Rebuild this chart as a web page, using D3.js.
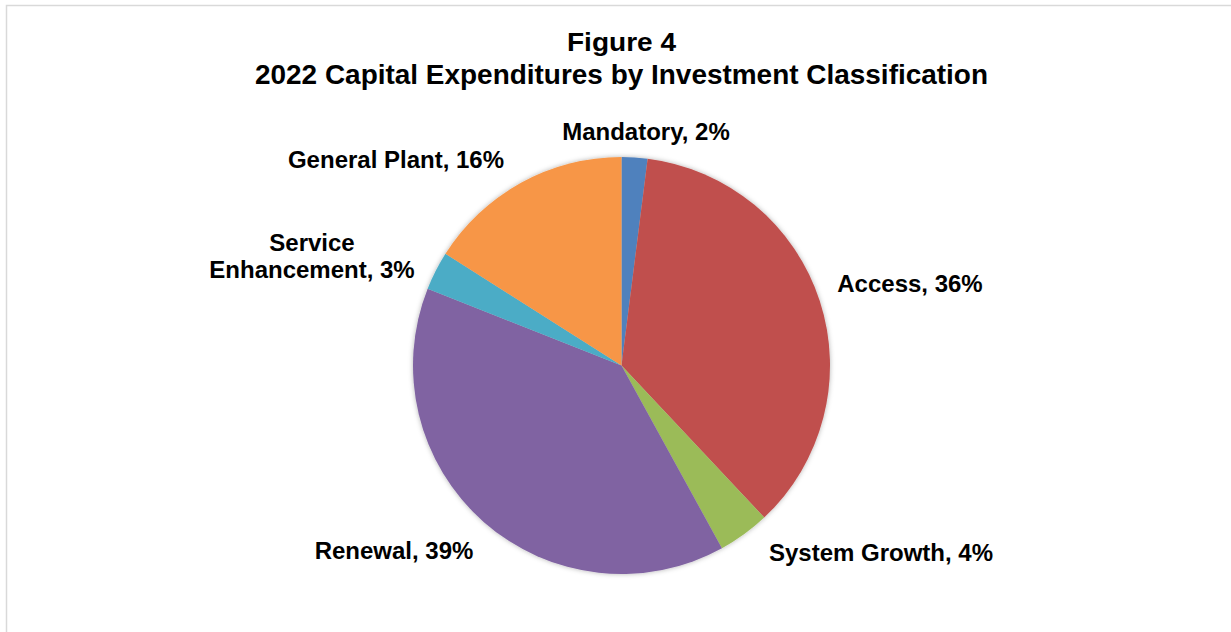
<!DOCTYPE html>
<html>
<head>
<meta charset="utf-8">
<script src="https://cdn.jsdelivr.net/npm/d3@7/dist/d3.min.js"></script>
<style>
  html, body { margin: 0; padding: 0; background: #ffffff; }
  svg { display: block; }
  text { font-family: "Liberation Sans", Arial, sans-serif; font-weight: bold; fill: #000; }
</style>
</head>
<body>
<svg id="chart" width="1231" height="632"></svg>
<script>
// Capital expenditure shares by investment classification (percent)
const categories = ["Mandatory", "Access", "System Growth", "Renewal", "Service Enhancement", "General Plant"];
const shares = [2, 36, 4, 39, 3, 16];
const colors = ["#4f81bd", "#c0504d", "#9bbb59", "#8064a2", "#4bacc6", "#f79646"];
const titleLines = ["Figure 4", "2022 Capital Expenditures by Investment Classification"];

// Label text lines and anchor positions for each slice
const labelLines = [
  ["Mandatory, 2%"],
  ["Access, 36%"],
  ["System Growth, 4%"],
  ["Renewal, 39%"],
  ["Service", "Enhancement, 3%"],
  ["General Plant, 16%"]
];
const labelPos = [[646, 140], [910, 292], [881, 561], [394, 559], [312, 278], [396, 168]];

const svg = d3.select("#chart");
const W = 1231, H = 632;

// Chart area frame
svg.append("rect")
  .attr("x", 6.5).attr("y", 5.5)
  .attr("width", W).attr("height", H)
  .attr("fill", "#ffffff")
  .attr("stroke", "#d9d9d9").attr("stroke-width", 1.5);

// Title
svg.append("text")
  .attr("x", 621.5).attr("y", 51)
  .attr("text-anchor", "middle")
  .attr("font-size", 25)
  .attr("textLength", 109)
  .attr("lengthAdjust", "spacingAndGlyphs")
  .text(titleLines[0]);
svg.append("text")
  .attr("x", 621.5).attr("y", 84)
  .attr("text-anchor", "middle")
  .attr("font-size", 27)
  .attr("textLength", 733)
  .attr("lengthAdjust", "spacingAndGlyphs")
  .text(titleLines[1]);

// Soft shadow around the pie
const defs = svg.append("defs");
const f = defs.append("filter").attr("id", "pieShadow")
  .attr("x", "-10%").attr("y", "-10%").attr("width", "120%").attr("height", "120%");
f.append("feDropShadow")
  .attr("dx", 0).attr("dy", 0)
  .attr("stdDeviation", 2.5)
  .attr("flood-color", "#000").attr("flood-opacity", 0.3);

const cx = 621.5, cy = 365.5, r = 208.5;
const color = d3.scaleOrdinal().domain(categories).range(colors);

const pie = d3.pie().sort(null).value(d => d.value);
const arc = d3.arc().innerRadius(0).outerRadius(r);
const data = categories.map((c, i) => ({ name: c, value: shares[i] }));

const g = svg.append("g")
  .attr("transform", `translate(${cx},${cy})`)
  .attr("filter", "url(#pieShadow)");

g.selectAll("path")
  .data(pie(data))
  .join("path")
  .attr("d", arc)
  .attr("fill", d => color(d.data.name));

// Data labels
const labels = svg.append("g");
labelLines.forEach((lines, i) => {
  const [x, y] = labelPos[i];
  const t = labels.append("text")
    .attr("text-anchor", "middle")
    .attr("font-size", 24);
  lines.forEach((ln, j) => {
    t.append("tspan")
      .attr("x", x)
      .attr("y", y - (lines.length - 1 - j) * 27)
      .text(ln);
  });
});
</script>
</body>
</html>
